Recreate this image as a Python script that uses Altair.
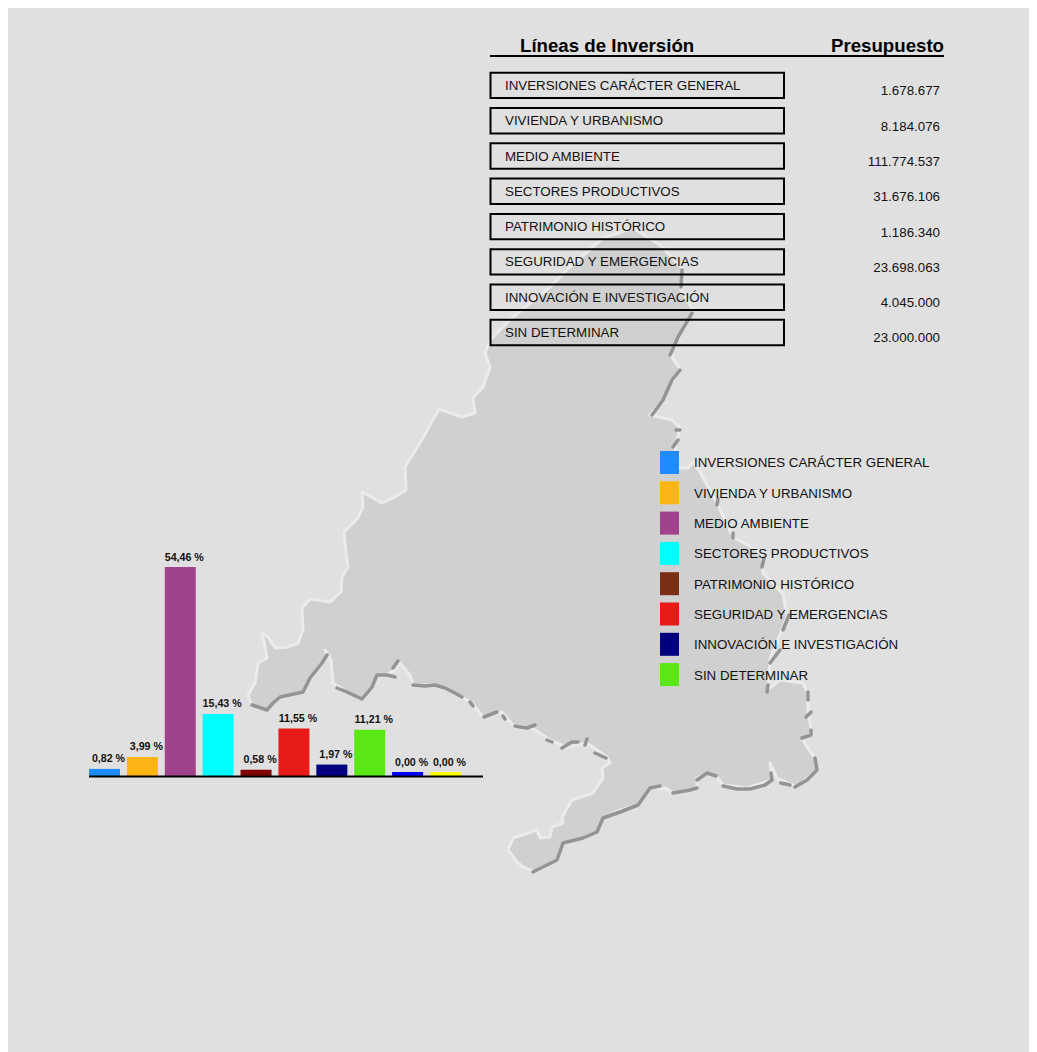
import altair as alt
import pandas as pd

FONT = "Liberation Sans"

# ---- data ----
lines = ["INVERSIONES CARÁCTER GENERAL", "VIVIENDA Y URBANISMO", "MEDIO AMBIENTE",
         "SECTORES PRODUCTIVOS", "PATRIMONIO HISTÓRICO", "SEGURIDAD Y EMERGENCIAS",
         "INNOVACIÓN E INVESTIGACIÓN", "SIN DETERMINAR"]
budget = ["1.678.677", "8.184.076", "111.774.537", "31.676.106",
          "1.186.340", "23.698.063", "4.045.000", "23.000.000"]
legend_colors = ["#1e8cff", "#fdb515", "#a0428c", "#00ffff",
                 "#7a2e14", "#e71c17", "#000080", "#59e815"]
bar_ids = ["b01", "b02", "b03", "b04", "b05", "b06", "b07", "b08", "b09", "b10"]
bar_values = [0.82, 3.99, 54.46, 15.43, 0.58, 11.55, 1.97, 11.21, 0.00, 0.00]
bar_labels = ["0,82 %", "3,99 %", "54,46 %", "15,43 %", "0,58 %",
              "11,55 %", "1,97 %", "11,21 %", "0,00 %", "0,00 %"]
bar_colors = ["#1e8cff", "#fdb515", "#a0428c", "#00ffff", "#800000",
              "#e71c17", "#000080", "#59e815", "#0000ff", "#ffff00"]

# map of the region
map_outline = [
    [633,228],[660,245],[682,268],[681,290],[693,310],[683,327],[670,353],[675,362],[680,368],
    [672,382],[663,400],[650,415],[672,420],[680,428],[675,447],[675,468],[688,468],[693,462],
    [700,472],[717,503],[733,537],[762,553],[763,573],[783,594],[787,617],[770,659],[768,689],
    [780,680],[803,683],[808,693],[808,713],[812,733],[802,738],[807,747],[815,758],[817,770],
    [797,787],[777,778],[770,763],[772,780],[747,788],[723,785],[717,777],[707,773],[697,778],
    [697,788],[673,793],[665,788],[650,788],[638,805],[620,810],[603,818],[597,832],[583,838],
    [563,843],[557,860],[535,872],[523,867],[517,862],[508,850],[513,838],[537,830],[540,838],
    [550,837],[552,827],[563,823],[562,817],[572,800],[593,793],[603,778],[602,768],[610,763],
    [607,757],[587,743],[567,747],[550,740],[532,728],[513,725],[502,712],[483,717],[472,703],
    [453,692],[435,685],[413,685],[410,675],[398,661],[397,668],[387,675],[377,675],[372,687],
    [362,699],[347,692],[333,683],[331,660],[325,650],[327,655],[322,663],[310,678],[303,692],
    [280,697],[273,703],[267,710],[252,705],[248,695],[255,683],[258,663],[267,658],[265,647],
    [262,633],[268,637],[275,648],[288,647],[298,643],[303,630],[302,608],[310,599],[330,602],
    [341,592],[342,577],[348,567],[346,553],[344,532],[358,518],[363,507],[362,492],[373,498],
    [382,503],[393,498],[406,490],[405,467],[420,443],[439,409],[462,417],[475,413],[473,398],
    [483,387],[490,367],[485,353],[490,340],[513,317],[550,287],[570,267],[603,238],[633,228],
]
map_ridges = [
    [[252,705],[267,710],[273,703],[280,697],[303,692],[310,678],[322,663],[327,655]],
    [[337,688],[347,692],[362,699],[372,687],[377,675],[387,675],[395,677]],
    [[393,668],[398,661]],
    [[413,685],[425,686],[435,685],[445,688],[453,692],[462,697]],
    [[470,702],[473,706]],
    [[484,717],[497,712]],
    [[503,716],[505,719]],
    [[515,726],[527,728],[535,725]],
    [[547,740],[552,742]],
    [[562,748],[572,742],[578,742]],
    [[585,745],[587,739]],
    [[595,753],[606,758]],
    [[533,872],[545,866],[557,860],[563,843],[583,838],[597,832],[603,818],[620,812],[638,805],[650,788],[660,786]],
    [[673,793],[690,790],[697,788]],
    [[697,780],[707,773],[716,776]],
    [[723,786],[737,789],[750,789],[765,785],[772,780],[771,773]],
    [[781,783],[790,785]],
    [[795,787],[807,780],[817,770],[815,758]],
    [[802,738],[811,735],[811,730]],
    [[806,717],[811,712]],
    [[808,700],[808,692]],
    [[767,692],[768,685]],
    [[770,663],[780,650]],
    [[783,630],[789,615]],
    [[762,567],[764,558]],
    [[733,533],[733,538]],
    [[718,499],[717,505]],
    [[673,447],[678,440]],
    [[676,430],[680,430]],
    [[652,415],[663,400],[672,380],[680,370]],
    [[670,355],[678,337],[692,313]],
    [[682,270],[681,287]],
]

# ---- frames ----
table = pd.DataFrame({"line": lines, "budget": budget})
legend_df = pd.DataFrame({"line": lines})
bars = pd.DataFrame({"id": bar_ids, "value": bar_values, "label": bar_labels})
map_feature = {"type": "Feature", "properties": {},
               "geometry": {"type": "Polygon", "coordinates": [map_outline]}}
ridge_feature = {"type": "Feature", "properties": {},
                 "geometry": {"type": "MultiLineString", "coordinates": map_ridges}}
headers = pd.DataFrame({"t": ["Líneas de Inversión", "Presupuesto"]})

map_fill = alt.Chart(alt.Data(values=[map_feature])).mark_geoshape(
    fill="#d0d0d0", stroke="#ebebeb", strokeWidth=3, strokeJoin="round").project(
    type="identity", scale=1, translate=[-8, -8])
map_ridge = alt.Chart(alt.Data(values=[ridge_feature])).mark_geoshape(
    filled=False, stroke="#949494", strokeWidth=3.5, strokeCap="round", strokeJoin="round").project(
    type="identity", scale=1, translate=[-8, -8])

# table
table_y = alt.Y("line:N", sort=lines, axis=None,
                scale=alt.Scale(type="band", domain=lines, range=[64.7, 337.2],
                                paddingInner=0.28, paddingOuter=0, round=False))
table_boxes = alt.Chart(table).mark_rect(fillOpacity=0, stroke="#000000", strokeWidth=2).encode(
    x=alt.value(482.5), x2=alt.value(776), y=table_y)
table_names = alt.Chart(table).mark_text(
    font=FONT, fontSize=13.33, align="left", baseline="middle", color="#111111", dy=0.5).encode(
    x=alt.value(497), y=table_y, text="line:N")
table_values = alt.Chart(table).mark_text(
    font=FONT, fontSize=13.33, align="right", baseline="middle", color="#111111", dy=6).encode(
    x=alt.value(932), y=table_y, text="budget:N")

head_l = alt.Chart(headers[headers.t == "Líneas de Inversión"]).mark_text(
    font=FONT, fontSize=18.67, fontWeight="bold", align="left", baseline="alphabetic", color="#000000"
).encode(x=alt.value(512), y=alt.value(44), text="t:N")
head_r = alt.Chart(headers[headers.t == "Presupuesto"]).mark_text(
    font=FONT, fontSize=18.67, fontWeight="bold", align="right", baseline="alphabetic", color="#000000"
).encode(x=alt.value(936), y=alt.value(44), text="t:N")
head_rule = alt.Chart(headers.head(1)).mark_rule(stroke="#000000", strokeWidth=2).encode(
    x=alt.value(482), x2=alt.value(936), y=alt.value(48))

# legend
leg_y = alt.Y("line:N", sort=lines, axis=None,
              scale=alt.Scale(type="band", domain=lines, range=[443, 678.1],
                              paddingInner=0.241, paddingOuter=0, round=False))
leg_swatch = alt.Chart(legend_df).mark_rect().encode(
    x=alt.value(652), x2=alt.value(671), y=leg_y,
    color=alt.Color("line:N", legend=None, scale=alt.Scale(domain=lines, range=legend_colors)))
leg_text = alt.Chart(legend_df).mark_text(
    font=FONT, fontSize=13.33, align="left", baseline="middle", color="#111111", dy=1).encode(
    x=alt.value(686), y=leg_y, text="line:N")

# bars
bar_x = alt.X("id:N", sort=bar_ids, axis=None,
              scale=alt.Scale(type="band", domain=bar_ids, range=[81, 453],
                              paddingInner=0.182, paddingOuter=0, round=False))
bar_y = alt.Y("value:Q", axis=None, stack=None,
              scale=alt.Scale(domain=[0, 54.46], range=[764, 559], zero=False, nice=False))
bar_marks = alt.Chart(bars).mark_rect().encode(
    x=bar_x, y=bar_y, y2=alt.value(768),
    color=alt.Color("id:N", legend=None, scale=alt.Scale(domain=bar_ids, range=bar_colors)))
bar_text = alt.Chart(bars).mark_text(
    font=FONT, fontSize=10.67, fontWeight="bold", align="center", baseline="alphabetic",
    color="#111111", dx=4, dy=-6.5).encode(x=bar_x, y=bar_y, text="label:N")
bar_base = alt.Chart(bars.head(1)).mark_rule(stroke="#000000", strokeWidth=2).encode(
    x=alt.value(81), x2=alt.value(475), y=alt.value(768.5))

chart = alt.layer(
    map_fill, map_ridge, table_boxes, table_names, table_values,
    head_l, head_r, head_rule, leg_swatch, leg_text, bar_marks, bar_base, bar_text,
).resolve_scale(x="independent", y="independent", color="independent").properties(
    width=1021, height=1044, background="#e0e0e0", padding=0
).configure_view(stroke=None)

chart.save("out.html", embed_options={"renderer": "svg", "actions": False})
